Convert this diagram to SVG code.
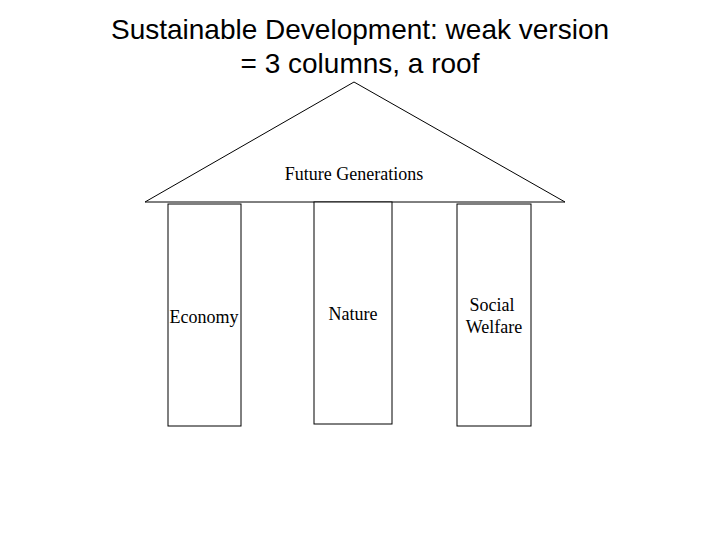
<svg xmlns="http://www.w3.org/2000/svg" width="720" height="540" viewBox="0 0 720 540">
<style>
.t{font-family:"Liberation Sans",Arial,sans-serif;font-size:28px;fill:#000;text-anchor:middle}
.l{font-family:"Liberation Serif","Times New Roman",serif;font-size:18px;fill:#000;text-anchor:middle}
.s{fill:#fff;stroke:#000;stroke-width:1}
</style>
<rect width="720" height="540" fill="#fff"/>
<g id="title">
<text class="t" x="360" y="39">Sustainable Development: weak version</text>
<text class="t" x="360" y="73">= 3 columns, a roof</text>
</g>
<g id="roof">
<polygon class="s" points="354,82 145,202 565,202"/>
<text class="l" x="354" y="180">Future Generations</text>
</g>
<g id="economy">
<rect class="s" x="168" y="204" width="73" height="222"/>
<text class="l" x="204" y="323">Economy</text>
</g>
<g id="nature">
<rect class="s" x="314" y="202" width="78" height="222"/>
<text class="l" x="353" y="320">Nature</text>
</g>
<g id="social">
<rect class="s" x="457" y="204" width="74" height="222"/>
<text class="l" x="492" y="311">Social</text>
<text class="l" x="494" y="333">Welfare</text>
</g>
<g id="connectors"></g>
</svg>
